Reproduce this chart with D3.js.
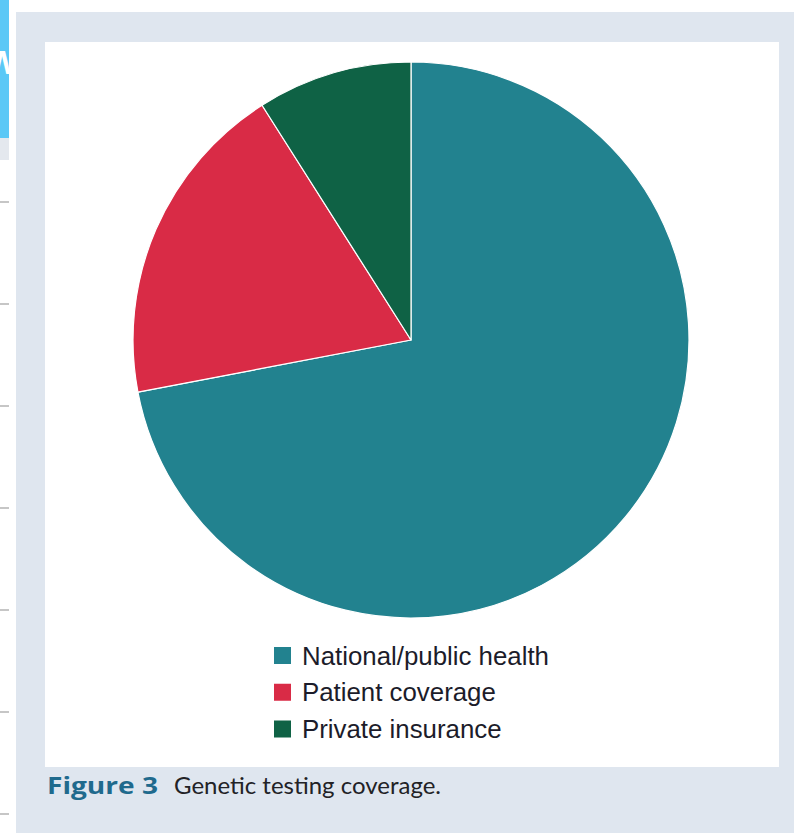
<!DOCTYPE html>
<html>
<head>
<meta charset="utf-8">
<script src="https://cdn.jsdelivr.net/npm/d3@7"></script>
<style>
  html, body { margin: 0; padding: 0; background: #ffffff; }
  svg { display: block; }
</style>
</head>
<body>
<script>
// Coverage shares (percent of genetic tests by payer)
const categories = ["National/public health", "Patient coverage", "Private insurance"];
const shares = [72, 19, 9];
const colors = ["#22828f", "#d92b46", "#0f6245"];
const figureLabel = "Figure 3";
const captionText = "Genetic testing coverage.";
const marginTicks = [0, 1, 2, 3, 4, 5, 6];

const W = 794, H = 836;
const svg = d3.select("body").append("svg").attr("width", W).attr("height", H);

// page furniture around the figure box
svg.append("rect").attr("x", 0).attr("y", 0).attr("width", 9).attr("height", 138).attr("fill", "#5bc8f6");
svg.append("rect").attr("x", 0).attr("y", 138).attr("width", 9).attr("height", 22).attr("fill", "#e4e8ee");
const clip = svg.append("clipPath").attr("id", "tabclip");
clip.append("rect").attr("x", 0).attr("y", 0).attr("width", 9).attr("height", 138);
svg.append("text").attr("clip-path", "url(#tabclip)")
  .attr("x", -14).attr("y", 74).attr("fill", "#ffffff")
  .style("font-family", "Liberation Sans, Arial, sans-serif").style("font-size", "34px").style("font-weight", "bold")
  .text("W");

const tickY = d3.scaleLinear().domain([0, 6]).range([202, 814]);
svg.selectAll("line.mtick").data(marginTicks).join("line")
  .attr("class", "mtick")
  .attr("x1", 0).attr("x2", 9)
  .attr("y1", d => tickY(d)).attr("y2", d => tickY(d))
  .attr("stroke", "#c6c6c6").attr("stroke-width", 2);

// figure panel
svg.append("rect").attr("x", 16).attr("y", 12).attr("width", 778).attr("height", 821).attr("fill", "#dfe6ef");
svg.append("rect").attr("x", 45).attr("y", 42).attr("width", 734).attr("height", 725).attr("fill", "#ffffff");

// pie
const cx = 411, cy = 340, r = 278;
const pie = d3.pie().sort(null).value(d => d.value);
const data = categories.map((c, i) => ({ name: c, value: shares[i], color: colors[i] }));
const arc = d3.arc().innerRadius(0).outerRadius(r);
svg.append("g").attr("transform", `translate(${cx},${cy})`)
  .selectAll("path").data(pie(data)).join("path")
  .attr("d", arc)
  .attr("fill", d => d.data.color)
  .attr("stroke", "#ffffff").attr("stroke-width", 1.2).attr("stroke-linejoin", "round");

// legend: sized so the longest label spans ~247px
const legY = d3.scalePoint().domain(categories).range([655.5, 729]);
const leg = svg.append("g");
const rows = leg.selectAll("g").data(data).join("g")
  .attr("transform", d => `translate(274,${legY(d.name)})`);
rows.append("rect").attr("x", 0).attr("y", -8.5).attr("width", 17).attr("height", 17).attr("fill", d => d.color);
const legText = rows.append("text").attr("x", 28).attr("y", 0).attr("dy", "0.36em")
  .attr("fill", "#1c1c2a")
  .style("font-family", "Liberation Sans, Arial, sans-serif").style("font-size", "25px")
  .text(d => d.name);
const longest = d3.max(legText.nodes(), n => n.getComputedTextLength());
const legScale = 247 / longest;
legText.each(function () {
  const w = this.getComputedTextLength();
  d3.select(this).attr("textLength", w * legScale).attr("lengthAdjust", "spacingAndGlyphs");
});

// caption
const capFont = "Lato, 'Open Sans', sans-serif";
const fig = svg.append("text").attr("x", 47).attr("y", 794)
  .style("font-family", "'Open Sans', Lato, sans-serif")
  .style("font-weight", "bold").style("font-size", "24px")
  .attr("fill", "#1f6a8d").text(figureLabel);
fig.attr("textLength", 111).attr("lengthAdjust", "spacingAndGlyphs");
const capt = svg.append("text").attr("x", 174).attr("y", 794)
  .style("font-family", capFont).style("font-size", "24px")
  .attr("fill", "#222226").text(captionText);
capt.attr("textLength", 267).attr("lengthAdjust", "spacingAndGlyphs");
</script>
</body>
</html>
